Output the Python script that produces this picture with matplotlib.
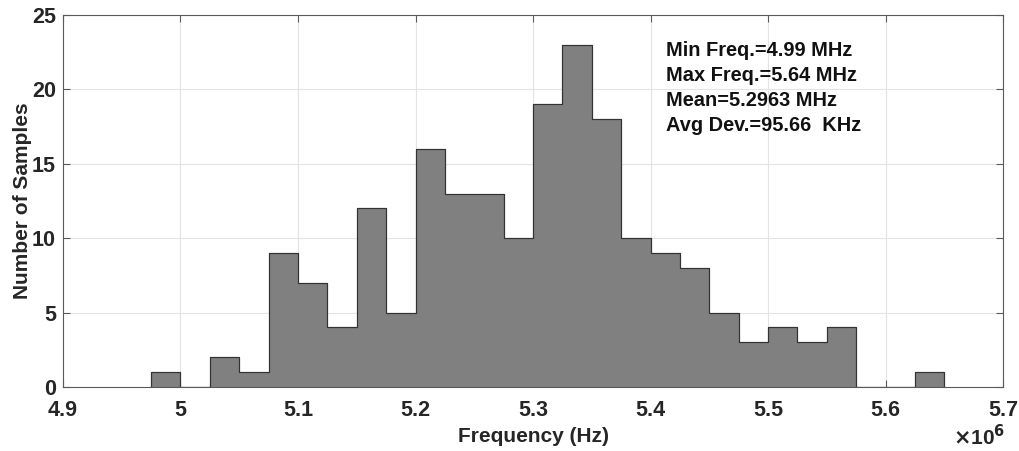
import matplotlib
matplotlib.use("Agg")
import matplotlib.pyplot as plt
import numpy as np

# histogram bins (Hz) and counts per bin
bin_edges = np.arange(4.975e6, 5.6501e6, 0.025e6)
counts = [1, 0, 2, 1, 9, 7, 4, 12, 5, 16, 13, 13, 10, 19, 23, 18,
          10, 9, 8, 5, 3, 4, 3, 4, 0, 0, 1]
stats_text = ["Min Freq.=4.99 MHz", "Max Freq.=5.64 MHz",
              "Mean=5.2963 MHz", "Avg Dev.=95.66  KHz"]
xticks = np.arange(4.9e6, 5.7001e6, 0.1e6)
yticks = [0, 5, 10, 15, 20, 25]

plt.rcParams["font.family"] = ["Liberation Sans", "DejaVu Sans"]
plt.rcParams["font.weight"] = "bold"

fig = plt.figure(figsize=(10.19, 4.51), dpi=100)
ax = fig.add_axes([63 / 1019, 1 - 387 / 451, 940 / 1019, 372 / 451])

ax.stairs(counts, bin_edges, fill=True, facecolor="#808080",
          edgecolor="#333333", linewidth=0.8, zorder=2)
ax.stairs(counts, bin_edges, fill=False, color="#333333", linewidth=0.8, zorder=3)

ax.set_xlim(4.9e6, 5.7e6)
ax.set_ylim(0, 25)
ax.set_xticks(xticks)
ax.set_xticklabels([f"{v / 1e6:g}" for v in xticks])
ax.set_yticks(yticks)
ax.grid(True, color="#e3e3e3", linewidth=0.8, zorder=0)
ax.set_axisbelow(True)

for s in ax.spines.values():
    s.set_color("#5a5a5a")
    s.set_linewidth(0.8)
ax.tick_params(direction="in", top=True, right=True, length=5,
               color="#5a5a5a", labelsize=15.5, labelcolor="#262626")
ax.tick_params(axis="x", pad=9)
ax.tick_params(axis="y", pad=5)

ax.set_xlabel("Frequency (Hz)", fontsize=15, fontweight="bold", color="#262626", labelpad=5)
ax.set_ylabel("Number of Samples", fontsize=15, fontweight="bold", color="#262626", labelpad=0)

fig.text(1005 / 1019, 1 - 437 / 451, r"$\times$10$^{6}$", ha="right", va="center",
         fontsize=15, fontweight="bold", color="#262626")

for i, line in enumerate(stats_text):
    ax.text(5.413e6, 22.6 - i * 1.68, line, fontsize=14.4, fontweight="bold",
            color="#111111", va="center", ha="left")

fig.savefig("out.png", dpi=100)
